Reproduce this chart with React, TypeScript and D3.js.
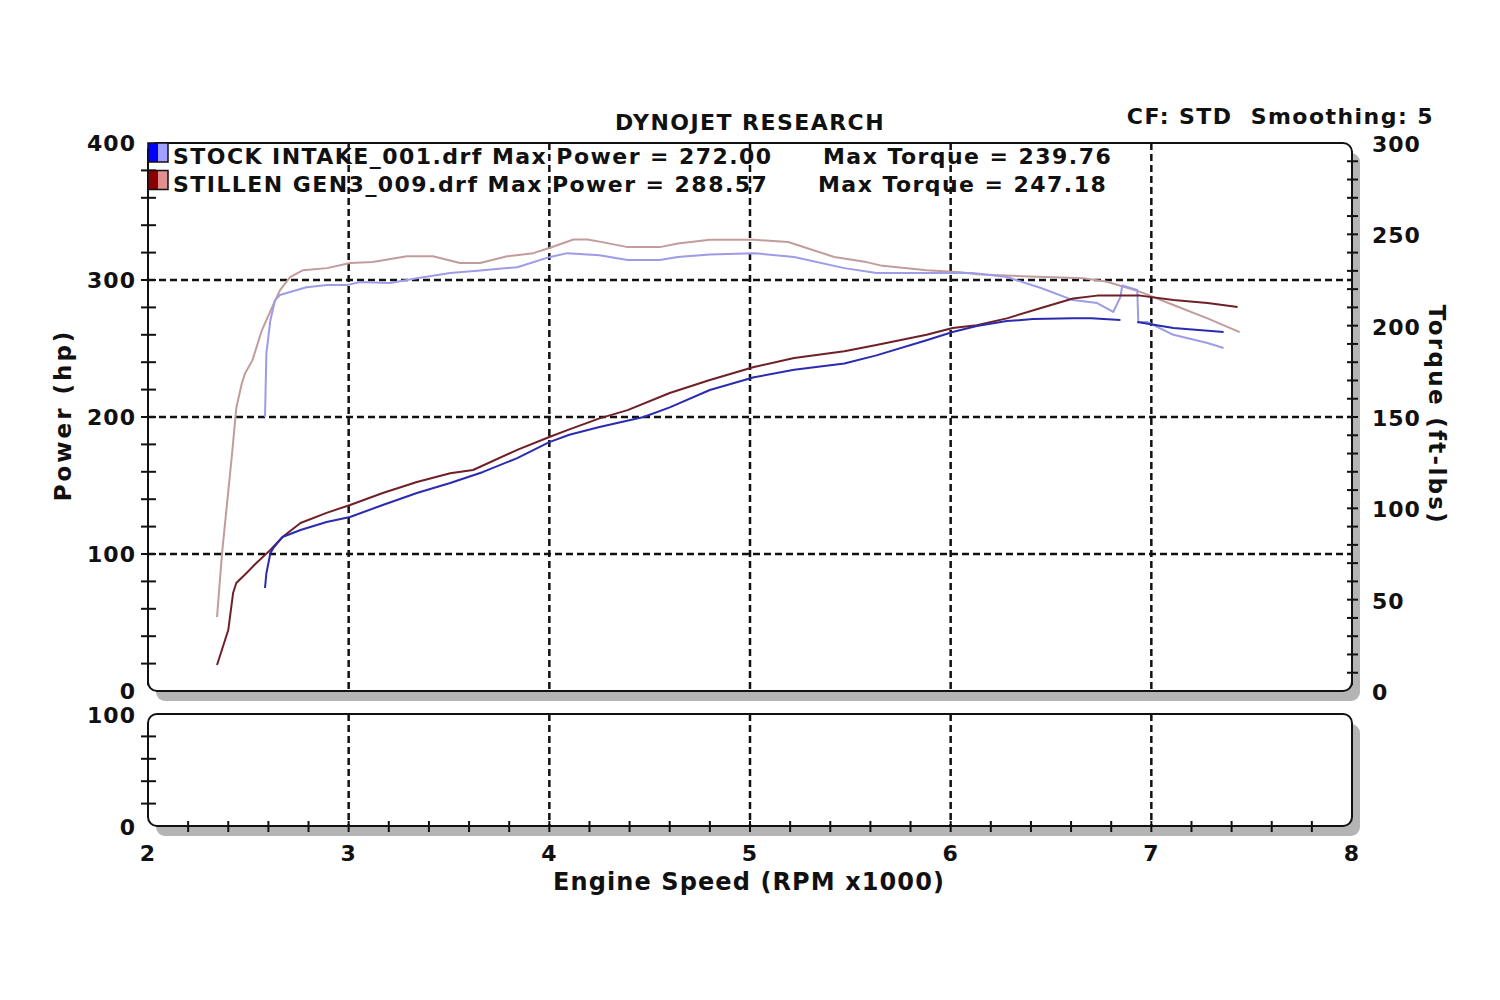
import * as d3 from "d3";

// engine speed (x1000 rpm) and readings
const stockTorqueRpm = [2.583, 2.59, 2.61, 2.633, 2.658, 2.708, 2.79, 2.892, 2.99, 3.057, 3.206, 3.34, 3.506, 3.67, 3.84, 4.0, 4.09, 4.25, 4.39, 4.55, 4.64, 4.8, 5.02, 5.22, 5.47, 5.63, 5.88, 6.11, 6.28, 6.45, 6.61, 6.73, 6.81, 6.846, 6.855, 6.93, 6.935, 6.98, 7.11, 7.28, 7.36];
const stockTorque = [150, 185, 203, 214, 216.8, 218.4, 221, 222.2, 222.2, 223.9, 223.3, 226, 228.8, 230.4, 232, 237.5, 239.7, 238.6, 236, 236, 237.6, 239, 239.7, 237.6, 231.5, 228.8, 228.8, 228.8, 226.6, 220.6, 214, 212.4, 207.5, 215.7, 222, 219.5, 202, 202, 195, 190.5, 187.8];

const stillenTorqueRpm = [2.344, 2.369, 2.419, 2.44, 2.468, 2.484, 2.52, 2.568, 2.618, 2.658, 2.708, 2.773, 2.892, 3.007, 3.12, 3.29, 3.42, 3.555, 3.655, 3.79, 3.92, 4.0, 4.12, 4.19, 4.25, 4.39, 4.55, 4.64, 4.8, 5.02, 5.19, 5.42, 5.58, 5.65, 5.88, 6.05, 6.13, 6.36, 6.66, 6.78, 6.945, 7.11, 7.28, 7.44];
const stillenTorque = [40.5, 75.5, 130, 155, 168.6, 174, 181, 197.6, 210, 219.5, 226.6, 230.4, 231.5, 234.3, 234.8, 238, 238, 234.3, 234.3, 238, 239.7, 242.5, 247.2, 247.2, 246, 243, 243, 245, 247, 247, 245.8, 237.6, 234.8, 233, 230.4, 229.3, 228.2, 227, 226, 224, 218.5, 211.3, 204, 196.5];

// NaN marks the drop-out in the stock run
const stockPowerRpm = [2.583, 2.59, 2.61, 2.625, 2.67, 2.76, 2.89, 3.007, 3.17, 3.34, 3.506, 3.67, 3.84, 4.0, 4.1, 4.25, 4.47, 4.6, 4.8, 5.02, 5.22, 5.47, 5.63, 5.88, 6.01, 6.13, 6.28, 6.41, 6.61, 6.7, 6.846, 6.89, 6.93, 7.11, 7.36];
const stockPower = [75.2, 86, 100.7, 104.4, 112.4, 117.5, 123.4, 127, 135.8, 144.5, 151.8, 159.9, 170, 181.7, 187, 192.7, 200, 207, 219.7, 229, 234.5, 239, 245, 256, 262, 266.4, 270, 271.5, 272, 272, 270.8, NaN, 269.3, 265, 262];

const stillenPowerRpm = [2.344, 2.4, 2.424, 2.44, 2.49, 2.54, 2.61, 2.67, 2.76, 2.89, 3.007, 3.17, 3.34, 3.506, 3.62, 3.84, 4.0, 4.1, 4.25, 4.39, 4.6, 4.8, 5.02, 5.22, 5.47, 5.63, 5.88, 6.01, 6.13, 6.28, 6.45, 6.61, 6.73, 6.945, 7.11, 7.28, 7.43];
const stillenPower = [19, 44.5, 71.5, 78.8, 86, 93.4, 103, 112.4, 122.6, 130, 135.8, 144.5, 152.6, 159, 161.3, 176, 185.4, 191, 199, 205, 217.5, 227, 236.5, 243, 248, 252.5, 260, 265, 267, 272, 279.6, 286.5, 288.6, 288.6, 285.4, 283.2, 280.3];

const rpmTicks = [2, 3, 4, 5, 6, 7, 8];
const powerTicks = [0, 100, 200, 300, 400];
const torqueTicks = [0, 50, 100, 150, 200, 250, 300];
const lowerTicks = [0, 100];

const runNames = ["STOCK INTAKE_001.drf", "STILLEN GEN3_009.drf"];
const maxPower = ["272.00", "288.57"];
const maxTorque = ["239.76", "247.18"];

const FONT = "'DejaVu Sans', Verdana, sans-serif";
const W = 1500;
const H = 1000;

export default function App() {
  const x = d3.scaleLinear().domain([2, 8]).range([148, 1352]);
  const yP = d3.scaleLinear().domain([0, 400]).range([691, 143]);
  const yT = d3.scaleLinear().domain([0, 300]).range([691, 143]);
  const yL = d3.scaleLinear().domain([0, 100]).range([826, 714]);

  const mk = (xs: number[], ys: number[], y: d3.ScaleLinear<number, number>) =>
    d3
      .line<number>()
      .defined((v) => !isNaN(v))
      .x((_, i) => x(xs[i]))
      .y((v) => y(v))(ys) || "";

  const series = [
    { d: mk(stillenTorqueRpm, stillenTorque, yT), color: "#c29c9c" },
    { d: mk(stockTorqueRpm, stockTorque, yT), color: "#9c9ce8" },
    { d: mk(stillenPowerRpm, stillenPower, yP), color: "#6e2026" },
    { d: mk(stockPowerRpm, stockPower, yP), color: "#2b2bb0" },
  ];

  const left = x(2);
  const right = x(8);
  const top = yP(400);
  const bottom = yP(0);
  const lTop = yL(100);
  const lBot = yL(0);

  const hpMinor = d3.range(20, 400, 20);
  const tqMinor = d3.range(10, 300, 10);
  const lowMinor = d3.range(20, 100, 20);
  const rpmMinor = d3.range(2.2, 7.9, 0.2);

  const txt = { fontFamily: FONT, fontWeight: 700, fontSize: 22, fill: "#111", letterSpacing: 1.45 } as const;
  const num = { ...txt, letterSpacing: 1 } as const;

  return (
    <svg width={W} height={H} style={{ position: "absolute", left: 0, top: 0, background: "#fff" }}>
      {/* panel shadows */}
      <rect x={left + 8} y={top + 10} width={right - left} height={bottom - top} rx={9} fill="#b4b4b4" />
      <rect x={left + 8} y={lTop + 10} width={right - left} height={lBot - lTop} rx={9} fill="#b4b4b4" />
      <rect x={left} y={top} width={right - left} height={bottom - top} rx={9} fill="#fff" stroke="#111" strokeWidth={2} />
      <rect x={left} y={lTop} width={right - left} height={lBot - lTop} rx={9} fill="#fff" stroke="#111" strokeWidth={2} />

      {/* grid */}
      <g stroke="#111" strokeWidth={2.5} strokeDasharray="7,4">
        {rpmTicks.slice(1, -1).map((r) => (
          <g key={r}>
            <line x1={x(r)} x2={x(r)} y1={top} y2={bottom} />
            <line x1={x(r)} x2={x(r)} y1={lTop} y2={lBot} />
          </g>
        ))}
        {[100, 200, 300].map((p) => (
          <line key={p} x1={left} x2={right} y1={yP(p)} y2={yP(p)} />
        ))}
      </g>

      {/* axis ticks */}
      <g stroke="#111" strokeWidth={2}>
        <line x1={left} x2={left} y1={top + 6} y2={bottom - 6} />
        <line x1={right} x2={right} y1={top + 8} y2={bottom - 6} />
        {hpMinor.map((v) => (
          <line key={"h" + v} x1={left - 7} x2={left + 8} y1={yP(v)} y2={yP(v)} />
        ))}
        {tqMinor.map((v) => (
          <line key={"t" + v} x1={right - 5} x2={right + 6} y1={yT(v)} y2={yT(v)} />
        ))}
        {lowMinor.map((v) => (
          <line key={"l" + v} x1={left - 7} x2={left + 8} y1={yL(v)} y2={yL(v)} />
        ))}
        {rpmMinor.map((v) => (
          <line key={"r" + v} x1={x(v)} x2={x(v)} y1={lBot - 5} y2={lBot + 6} />
        ))}
      </g>

      {/* curves */}
      <g fill="none" strokeWidth={2} strokeLinejoin="round">
        {series.map((s, i) => (
          <path key={i} d={s.d} stroke={s.color} />
        ))}
      </g>

      {/* legend */}
      {runNames.map((name, i) => {
        const yy = 143 + i * 27.5;
        const dark = i === 0 ? "#0000ff" : "#8b0000";
        const light = i === 0 ? "#a0a0ff" : "#e09090";
        return (
          <g key={name}>
            <rect x={148} y={yy} width={10} height={19} fill={dark} />
            <rect x={158} y={yy} width={10} height={19} fill={light} />
            <rect x={148} y={yy} width={20} height={19} fill="none" stroke="#111" strokeWidth={1.5} />
            <text x={173} y={yy + 21} {...txt}>
              {`${name} Max Power = ${maxPower[i]}`}
            </text>
            <text x={i === 0 ? 823 : 818} y={yy + 21} {...txt}>
              {`Max Torque = ${maxTorque[i]}`}
            </text>
          </g>
        );
      })}

      {/* titles */}
      <text x={750} y={130} textAnchor="middle" {...txt}>
        DYNOJET RESEARCH
      </text>
      <text x={1434} y={124} textAnchor="end" {...txt} style={{ whiteSpace: "pre" }}>
        {"CF: STD  Smoothing: 5"}
      </text>

      {/* tick labels */}
      {powerTicks.map((v) => (
        <text key={"pl" + v} x={136} y={yP(v) + 8} textAnchor="end" {...num}>
          {v}
        </text>
      ))}
      {lowerTicks.map((v) => (
        <text key={"ll" + v} x={136} y={yL(v) + 9} textAnchor="end" {...num}>
          {v}
        </text>
      ))}
      {torqueTicks.map((v) => (
        <text key={"tl" + v} x={1372} y={yT(v) + 9} {...num}>
          {v}
        </text>
      ))}
      {rpmTicks.map((v) => (
        <text key={"xl" + v} x={x(v)} y={861} textAnchor="middle" {...num}>
          {v}
        </text>
      ))}

      {/* axis titles */}
      <text x={749} y={890} textAnchor="middle" {...txt} fontSize={24} letterSpacing={1.1}>
        Engine Speed (RPM x1000)
      </text>
      <text transform="translate(71,415) rotate(-90)" textAnchor="middle" {...txt} fontSize={23} letterSpacing={3}>
        Power (hp)
      </text>
      <text transform="translate(1429,415) rotate(90)" textAnchor="middle" {...txt} fontSize={23} letterSpacing={2.3}>
        Torque (ft-lbs)
      </text>
    </svg>
  );
}
